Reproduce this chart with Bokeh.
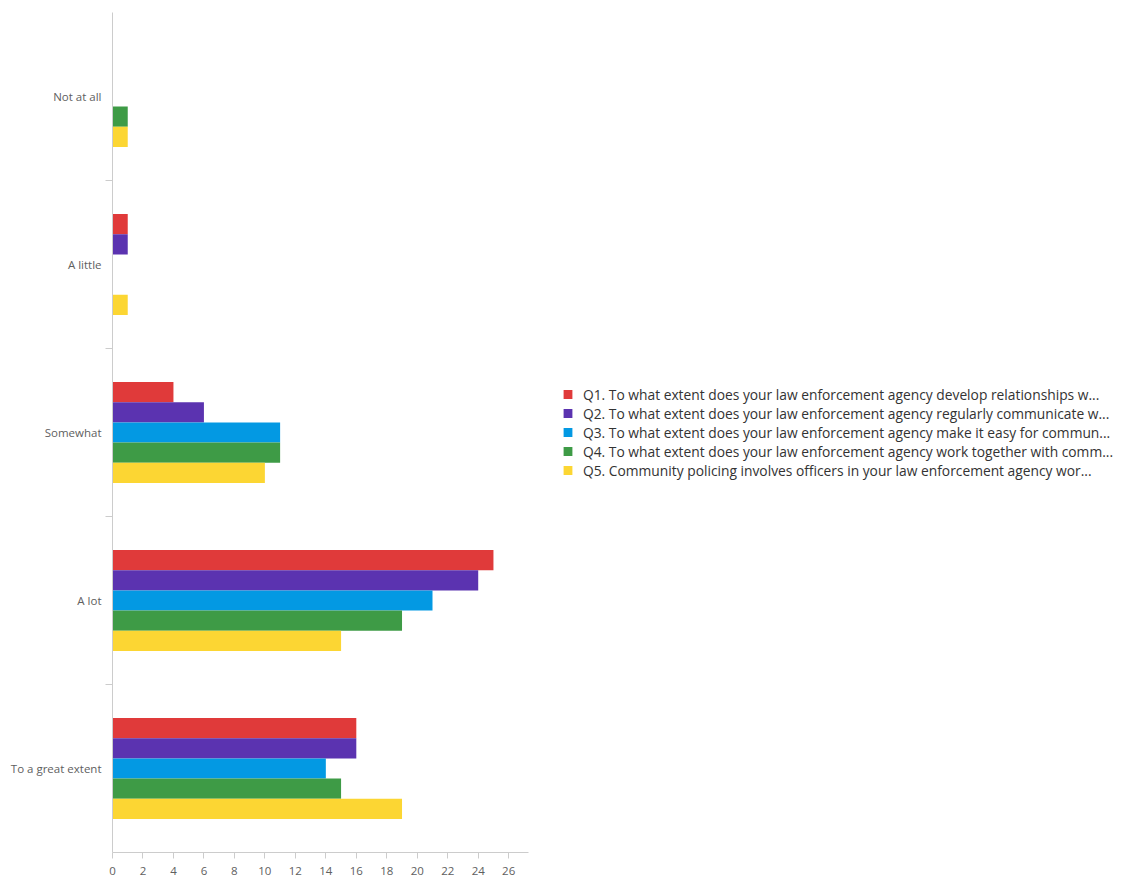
from bokeh.plotting import figure
from bokeh.models import ColumnDataSource, FixedTicker, Range1d, Legend, LegendItem
from bokeh.embed import file_html
from bokeh.resources import INLINE

categories = ["Not at all", "A little", "Somewhat", "A lot", "To a great extent"]
series_names = [
    "Q1. To what extent does your law enforcement agency develop relationships w...",
    "Q2. To what extent does your law enforcement agency regularly communicate w...",
    "Q3. To what extent does your law enforcement agency make it easy for commun...",
    "Q4. To what extent does your law enforcement agency work together with comm...",
    "Q5. Community policing involves officers in your law enforcement agency wor...",
]
q1 = [0, 1, 4, 25, 16]
q2 = [0, 1, 6, 24, 16]
q3 = [0, 0, 11, 21, 14]
q4 = [1, 0, 11, 19, 15]
q5 = [1, 1, 10, 15, 19]
series_values = [q1, q2, q3, q4, q5]
colors = ["#E03A3A", "#5B33B0", "#0399E3", "#3E9B46", "#FCD633"]
x_ticks = list(range(0, 27, 2))

FONT = "Open Sans"
n_cat = len(categories)
bar_h = 0.12

p = figure(
    width=1119, height=878,
    frame_width=416, frame_height=840,
    x_range=Range1d(0, 27.3), y_range=Range1d(n_cat, 0),
    output_backend="svg", toolbar_location=None,
    min_border_left=112, min_border_top=12, min_border_bottom=26,
)
p.outline_line_color = None
p.xgrid.grid_line_color = None
p.ygrid.grid_line_color = None

centers = [i + 0.5 for i in range(n_cat)]
items = []
for k, (name, vals, col) in enumerate(zip(series_names, series_values, colors)):
    offset = (k - 2) * bar_h
    src = ColumnDataSource(dict(y=[c + offset for c in centers], right=vals))
    r = p.hbar(y="y", left=0, right="right", height=bar_h, source=src,
               fill_color=col, line_color=None)
    items.append(LegendItem(label=name, renderers=[r]))

# y axis
p.yaxis.ticker = FixedTicker(ticks=centers, minor_ticks=[1, 2, 3, 4])
p.yaxis.major_label_overrides = {c: cat for c, cat in zip(centers, categories)}
p.yaxis.major_tick_out = 0
p.yaxis.major_tick_in = 0
p.yaxis.minor_tick_out = 7
p.yaxis.minor_tick_in = 0
p.yaxis.minor_tick_line_color = "#cccccc"
p.yaxis.axis_line_color = "#cccccc"
p.yaxis.major_label_standoff = 4
p.yaxis.major_label_text_font = FONT
p.yaxis.major_label_text_font_size = "11.5px"
p.yaxis.major_label_text_color = "#606060"

# x axis
p.xaxis.ticker = FixedTicker(ticks=x_ticks, minor_ticks=[])
p.xaxis.major_tick_out = 6
p.xaxis.major_tick_in = 0
p.xaxis.major_tick_line_color = "#cccccc"
p.xaxis.axis_line_color = "#cccccc"
p.xaxis.major_label_standoff = 8
p.xaxis.major_label_text_font = FONT
p.xaxis.major_label_text_font_size = "11.5px"
p.xaxis.major_label_text_color = "#606060"

legend = Legend(items=items, location="center_left")
legend.border_line_color = None
legend.background_fill_alpha = 0
legend.padding = 0
legend.glyph_width = 11
legend.glyph_height = 11
legend.label_height = 14
legend.spacing = 0
legend.label_standoff = 10
legend.label_text_font = FONT
legend.label_text_font_size = "13.8px"
legend.label_text_color = "#333333"
legend.label_text_baseline = "middle"
p.add_layout(legend, "right")
p.min_border_right = 0
legend.margin = 34

open("out.html", "w").write(file_html(p, INLINE))
